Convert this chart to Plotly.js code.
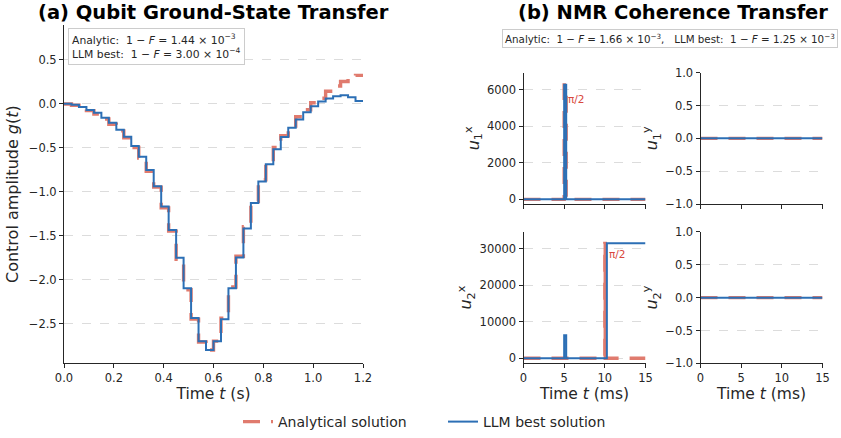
<!DOCTYPE html>
<html><head><meta charset="utf-8">
<script src="https://cdn.plot.ly/plotly-3.0.1.min.js"></script>
<style>html,body{margin:0;padding:0;background:#fff}#chart{width:841px;height:438px}</style>
</head><body><div id="chart"></div>
<script>
// ---- Panel (a): qubit piecewise-constant control (step boundaries, s) ----
const qubitT = [0.00,0.03,0.06,0.09,0.12,0.15,0.18,0.21,0.24,0.27,0.30,0.33,0.36,0.39,0.42,0.45,0.48,0.51,0.54,0.57,0.60,0.63,0.66,0.69,0.72,0.75,0.78,0.81,0.84,0.87,0.90,0.93,0.96,0.99,1.02,1.05,1.08,1.11,1.14,1.17,1.20];
const qubitAnalytic = [-0.005,-0.02,-0.05,-0.08,-0.12,-0.175,-0.235,-0.31,-0.39,-0.50,-0.62,-0.77,-0.95,-1.185,-1.45,-1.77,-2.115,-2.45,-2.71,-2.80,-2.70,-2.44,-2.085,-1.735,-1.40,-1.11,-0.865,-0.67,-0.50,-0.365,-0.255,-0.15,-0.07,0.01,0.06,0.14,0.20,0.25,0.29,0.32];
const qubitLLM = [-0.003,-0.013,-0.038,-0.072,-0.105,-0.162,-0.218,-0.298,-0.377,-0.483,-0.603,-0.754,-0.94,-1.17,-1.437,-1.753,-2.10,-2.436,-2.70,-2.80,-2.70,-2.45,-2.10,-1.75,-1.42,-1.13,-0.886,-0.69,-0.52,-0.38,-0.275,-0.18,-0.098,-0.03,0.023,0.057,0.083,0.094,0.071,0.03];

// ---- Panel (b): NMR controls (time in ms) ----
const u1xAnalyticT = [0, 5, 5.25, 15];
const u1xAnalytic  = [0, 6283, 0, 0];
const u1xLLMT      = [0, 5, 5.25, 15];
const u1xLLM       = [0, 6283, 0, 0];
const u2xAnalyticT = [0, 10, 10.05, 15];
const u2xAnalytic  = [0, 31416, 0, 0];
const u2xLLMT      = [0, 5, 5.25, 10.25, 15];
const u2xLLM       = [0, 6300, 0, 31416, 31416];
const uyT          = [0, 15];
const u1yAnalytic  = [0, 0];
const u1yLLM       = [0, 0];
const u2yAnalytic  = [0, 0];
const u2yLLM       = [0, 0];

const RED = '#e07b6e', BLUE = '#2c6fb5', AX = '#262626';
const FONT = 'DejaVu Sans, sans-serif';
const W = 841, H = 438;
const xd = (a, b) => [a / W, b / W];
const yd = (top, bot) => [1 - bot / H, 1 - top / H];

const stepY = v => v.concat([v[v.length - 1]]);

function red(x, y, xa, ya, show) {
  return {x, y, xaxis: xa, yaxis: ya, type: 'scatter', mode: 'lines', line: {shape: 'hv', color: RED, width: 3.4, dash: '17px,11px'},
          name: 'Analytical solution', showlegend: !!show, legendrank: 1, hoverinfo: 'skip'};
}
function blue(x, y, xa, ya, show) {
  return {x, y, xaxis: xa, yaxis: ya, type: 'scatter', mode: 'lines', line: {shape: 'hv', color: BLUE, width: 2},
          name: 'LLM best solution', showlegend: !!show, legendrank: 2, hoverinfo: 'skip'};
}

const data = [
  red(qubitT, stepY(qubitAnalytic), 'x', 'y', true),
  blue(qubitT, stepY(qubitLLM), 'x', 'y', true),
  red(u1xAnalyticT, u1xAnalytic, 'x2', 'y2'),
  blue(u1xLLMT, u1xLLM, 'x2', 'y2'),
  red(uyT, u1yAnalytic, 'x3', 'y3'),
  blue(uyT, u1yLLM, 'x3', 'y3'),
  red(u2xAnalyticT, u2xAnalytic, 'x4', 'y4'),
  blue(u2xLLMT, u2xLLM, 'x4', 'y4'),
  red(uyT, u2yAnalytic, 'x5', 'y5'),
  blue(uyT, u2yLLM, 'x5', 'y5')
];

const baseAx = {showline: true, linecolor: AX, linewidth: 1, ticks: 'outside', ticklen: 4, tickwidth: 1, tickcolor: AX,
  tickfont: {family: FONT, size: 11.5, color: AX}, zeroline: false, showgrid: false, automargin: false, fixedrange: true};
const gridY = {showgrid: true, gridcolor: '#d3d3d3', gridwidth: 0.8, griddash: 'dash'};
const titleFont = {family: FONT, size: 15.5, color: AX};
const uFont = {family: FONT, size: 16, color: AX};

const layout = {
  width: W, height: H, margin: {l: 0, r: 0, t: 0, b: 0}, paper_bgcolor: '#fff', plot_bgcolor: '#fff',
  font: {family: FONT, color: AX},
  showlegend: true,
  legend: {orientation: 'h', x: 238 / W, xanchor: 'left', y: 1 - 424 / H, yanchor: 'middle',
           font: {family: FONT, size: 14, color: AX}, entrywidth: 160, entrywidthmode: 'pixels', bgcolor: 'rgba(0,0,0,0)'},
  xaxis: Object.assign({}, baseAx, {domain: xd(64, 363), range: [0, 1.2], dtick: 0.2, tick0: 0, tickformat: '.1f', anchor: 'y',
          title: {text: 'Time <i>t</i> (s)', font: titleFont, standoff: 3}}),
  yaxis: Object.assign({}, baseAx, gridY, {domain: yd(25, 365), range: [-2.952, 0.894], dtick: 0.5, tick0: 0, tickformat: '.1f', anchor: 'x',
          title: {text: 'Control amplitude <i>g</i>(<i>t</i>)', font: {family: FONT, size: 16, color: AX}, standoff: 6}}),
  xaxis2: Object.assign({}, baseAx, {domain: xd(523.5, 645.5), range: [0, 15], dtick: 5, showticklabels: false, anchor: 'y2'}),
  yaxis2: Object.assign({}, baseAx, gridY, {domain: yd(73, 205), range: [-260, 6950], dtick: 2000, tickformat: 'd', anchor: 'x2',
          title: {text: '<i>u</i><sub>1</sub><sup>x</sup>', font: uFont, standoff: 3}}),
  xaxis3: Object.assign({}, baseAx, {domain: xd(700.5, 822.5), range: [0, 15], dtick: 5, showticklabels: false, anchor: 'y3'}),
  yaxis3: Object.assign({}, baseAx, gridY, {domain: yd(73, 205), range: [-1, 1], dtick: 0.5, tick0: 0, tickformat: '.1f', anchor: 'x3',
          title: {text: '<i>u</i><sub>1</sub><sup>y</sup>', font: uFont, standoff: 3}}),
  xaxis4: Object.assign({}, baseAx, {domain: xd(523.5, 645.5), range: [0, 15], dtick: 5, anchor: 'y4',
          title: {text: 'Time <i>t</i> (ms)', font: titleFont, standoff: 3}}),
  yaxis4: Object.assign({}, baseAx, gridY, {domain: yd(233, 365), range: [-1370, 34540], dtick: 10000, tickformat: 'd', anchor: 'x4',
          title: {text: '<i>u</i><sub>2</sub><sup>x</sup>', font: uFont, standoff: 3}}),
  xaxis5: Object.assign({}, baseAx, {domain: xd(700.5, 822.5), range: [0, 15], dtick: 5, anchor: 'y5',
          title: {text: 'Time <i>t</i> (ms)', font: titleFont, standoff: 3}}),
  yaxis5: Object.assign({}, baseAx, gridY, {domain: yd(233, 365), range: [-1, 1], dtick: 0.5, tick0: 0, tickformat: '.1f', anchor: 'x5',
          title: {text: '<i>u</i><sub>2</sub><sup>y</sup>', font: uFont, standoff: 3}}),
  annotations: [
    {text: '<b>(a) Qubit Ground-State Transfer</b>', xref: 'paper', yref: 'paper', x: 213.5 / W, y: 1 - 13 / H,
     xanchor: 'center', yanchor: 'middle', showarrow: false, font: {family: FONT, size: 19.5, color: '#000'}},
    {text: '<b>(b) NMR Coherence Transfer</b>', xref: 'paper', yref: 'paper', x: 673 / W, y: 1 - 13 / H,
     xanchor: 'center', yanchor: 'middle', showarrow: false, font: {family: FONT, size: 19.5, color: '#000'}},
    {text: 'Analytic:  1 − <i>F</i> = 1.44 × 10<sup>−3</sup><br>LLM best:  1 − <i>F</i> = 3.00 × 10<sup>−4</sup>',
     xref: 'paper', yref: 'paper', x: 68 / W, y: 1 - 28 / H, xanchor: 'left', yanchor: 'top', align: 'left', showarrow: false,
     font: {family: FONT, size: 10.8, color: AX}, bgcolor: '#fff', bordercolor: '#cccccc', borderwidth: 1, borderpad: 3},
    {text: 'Analytic:  1 − <i>F</i> = 1.66 × 10<sup>−3</sup>,   LLM best:  1 − <i>F</i> = 1.25 × 10<sup>−3</sup>',
     xref: 'paper', yref: 'paper', x: 838 / W, y: 1 - 39 / H, xanchor: 'right', yanchor: 'middle', align: 'left', showarrow: false,
     font: {family: FONT, size: 10.3, color: AX}, bgcolor: '#fff', bordercolor: '#cccccc', borderwidth: 1, borderpad: 2},
    {text: 'π/2', xref: 'x2', yref: 'y2', x: 5.2, y: 5480, xanchor: 'left', yanchor: 'middle', showarrow: false,
     font: {family: FONT, size: 10.5, color: '#d9473d'}},
    {text: 'π/2', xref: 'x4', yref: 'y4', x: 10.25, y: 28400, xanchor: 'left', yanchor: 'middle', showarrow: false,
     font: {family: FONT, size: 10.5, color: '#d9473d'}}
  ]
};

Plotly.newPlot('chart', data, layout, {displayModeBar: false, staticPlot: true});
</script>
</body></html>
